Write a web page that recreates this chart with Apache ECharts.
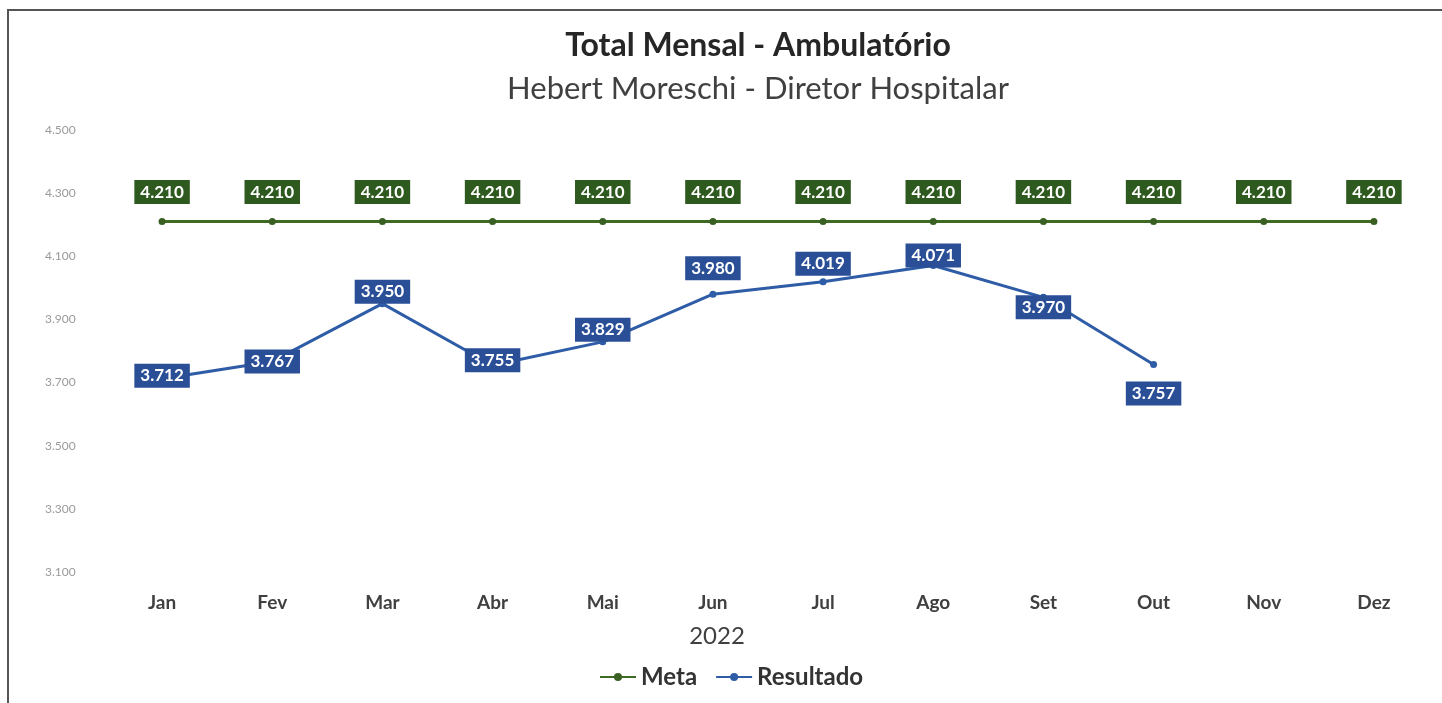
<!DOCTYPE html>
<html>
<head>
<meta charset="utf-8">
<title>Total Mensal - Ambulatório</title>
<script src="https://cdn.jsdelivr.net/npm/echarts@6/dist/echarts.min.js"></script>
<style>
  html, body { margin: 0; padding: 0; background: #fff; }
  #chart { width: 1442px; height: 703px; }
</style>
</head>
<body>
<div id="chart"></div>
<script>
// data
var meses = ['Jan', 'Fev', 'Mar', 'Abr', 'Mai', 'Jun', 'Jul', 'Ago', 'Set', 'Out', 'Nov', 'Dez'];
var meta = [4210, 4210, 4210, 4210, 4210, 4210, 4210, 4210, 4210, 4210, 4210, 4210];
var resultado = [3712, 3767, 3950, 3755, 3829, 3980, 4019, 4071, 3970, 3757, null, null];

// label offsets (layout only)
var resLabelOffset = [[0, -3], [0, 0], [0, -12], [0, -5], [0, -12], [0, -26], [0, -18], [0, -10], [0, 10], [0, 29], [0, 0], [0, 0]];

function fmt(v) {
  return String(v).replace(/\B(?=(\d{3})+(?!\d))/g, '.');
}

var dom = document.getElementById('chart');
var myChart = echarts.init(dom, null, { renderer: 'canvas' });

var option = {
  backgroundColor: '#fff',
  animation: false,
  textStyle: { fontFamily: 'Lato, "Open Sans", sans-serif' },
  title: {
    text: 'Total Mensal - Ambulatório',
    subtext: 'Hebert Moreschi - Diretor Hospitalar',
    left: 753,
    textAlign: 'center',
    top: 25,
    itemGap: 11,
    textStyle: { fontSize: 32, fontWeight: 'bold', color: '#262626', fontFamily: 'Lato' },
    subtextStyle: { fontSize: 31, color: '#404040', fontFamily: 'Lato' }
  },
  graphic: [{
    type: 'rect',
    shape: { x: 8, y: 10, width: 1500, height: 760 },
    style: { fill: 'none', stroke: '#555', lineWidth: 2 },
    silent: true
  }],
  legend: {
    bottom: 9,
    left: 594,
    itemWidth: 36,
    itemHeight: 10,
    itemGap: 18,
    textStyle: { fontSize: 24, fontWeight: 'bold', color: '#333', fontFamily: 'Lato' },
    data: ['Meta', 'Resultado']
  },
  grid: { left: 107, right: 13, top: 130, bottom: 131 },
  xAxis: {
    type: 'category',
    data: meses,
    boundaryGap: true,
    axisLine: { show: false },
    axisTick: { show: false },
    axisLabel: { margin: 21, fontSize: 19, fontWeight: 'bold', color: '#404040' },
    name: '2022',
    nameLocation: 'middle',
    nameGap: 52,
    nameTextStyle: { fontSize: 24, color: '#404040', padding: [0, 102, 0, 0] }
  },
  yAxis: {
    type: 'value',
    min: 3100,
    max: 4500,
    interval: 200,
    axisLine: { show: false },
    axisTick: { show: false },
    splitLine: { show: false },
    axisLabel: {
      margin: 32,
      align: 'left',
      padding: [0, 0, 0, -30],
      fontSize: 12,
      color: '#9a9a9a',
      formatter: function (v) { return fmt(v); }
    }
  },
  series: [{
    name: 'Meta',
    type: 'line',
    data: meta,
    symbol: 'circle',
    symbolSize: 7,
    lineStyle: { color: '#3f6a24', width: 3 },
    itemStyle: { color: '#3a5f22' },
    label: {
      show: true,
      position: 'top',
      distance: 14,
      formatter: function (p) { return fmt(p.value); },
      backgroundColor: '#2f5a1f',
      color: '#fff',
      fontWeight: 'bold',
      fontSize: 17,
      padding: [4, 6, 3, 6]
    }
  }, {
    name: 'Resultado',
    type: 'line',
    data: resultado.map(function (v, i) {
      return {
        value: v,
        label: { offset: resLabelOffset[i] }
      };
    }),
    symbol: 'circle',
    symbolSize: 7,
    lineStyle: { color: '#2e5ca6', width: 3 },
    itemStyle: { color: '#2e5ca6' },
    label: {
      show: true,
      position: 'inside',
      formatter: function (p) { return fmt(p.value); },
      backgroundColor: '#2a4f97',
      color: '#fff',
      fontWeight: 'bold',
      fontSize: 17,
      padding: [4, 6, 3, 6]
    }
  }]
};

myChart.setOption(option);
window.addEventListener('resize', myChart.resize);
</script>
</body>
</html>
